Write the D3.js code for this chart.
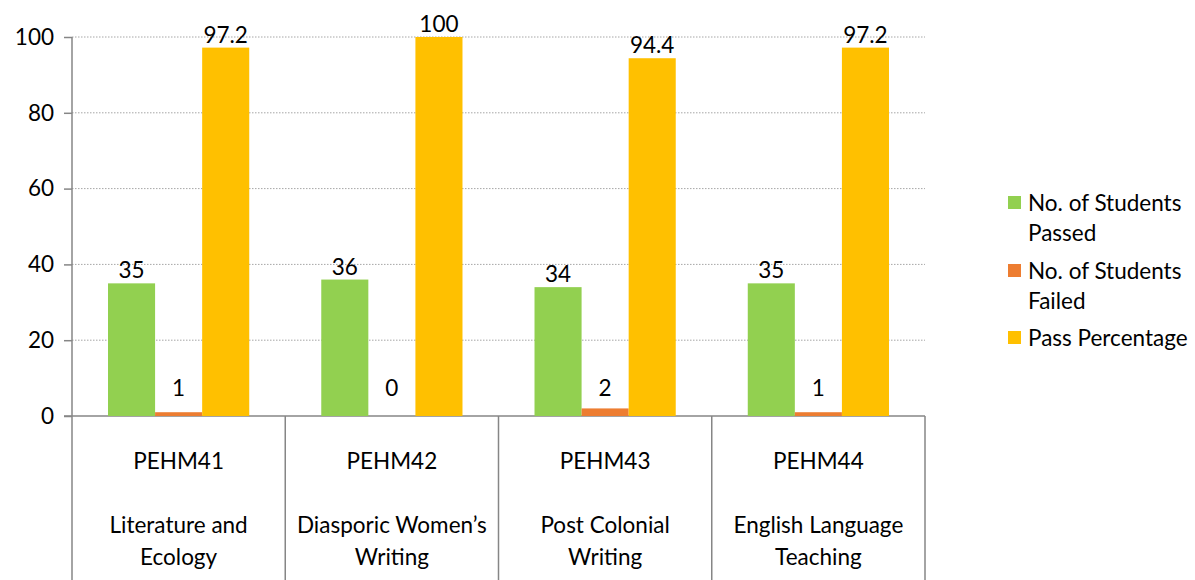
<!DOCTYPE html>
<html><head><meta charset="utf-8">
<script src="https://cdn.jsdelivr.net/npm/d3@7"></script>
<style>body{margin:0;background:#fff}svg{display:block}text{font-family:Lato,"Open Sans",sans-serif;fill:#000}</style>
</head><body><svg id="c" width="1195" height="580"></svg>
<script>
const codes = ["PEHM41","PEHM42","PEHM43","PEHM44"];
const titles = [["Literature and","Ecology"],["Diasporic Women\u2019s","Writing"],["Post Colonial","Writing"],["English Language","Teaching"]];
const seriesNames = ["No. of Students Passed","No. of Students Failed","Pass Percentage"];
const legendLines = [["No. of Students","Passed"],["No. of Students","Failed"],["Pass Percentage"]];
const passed = [35,36,34,35];
const failed = [1,0,2,1];
const passPct = [97.2,100,94.4,97.2];
const yTicks = [0,20,40,60,80,100];
const colors = ["#92d050","#ed7d31","#ffc000"];

const FS = 22.5;
const svg = d3.select("#c");
const L=72, R=925, T=37, B=416;
const x = d3.scaleBand().domain(codes).range([L,R]).paddingInner(0).paddingOuter(0);
const y = d3.scaleLinear().domain([0,100]).range([B,T]);
const inner = d3.scaleBand().domain(d3.range(3)).range([0,x.bandwidth()]).paddingOuter(0.765).paddingInner(0);

// gridlines
svg.append("g").selectAll("line").data(yTicks.filter(d=>d>0)).join("line")
  .attr("x1",L).attr("x2",R).attr("y1",d=>y(d)).attr("y2",d=>y(d))
  .attr("stroke","#a6a6a6").attr("stroke-width",1).attr("stroke-dasharray","1.5,1.5");

// y axis
const ya = svg.append("g").attr("transform",`translate(${L},0)`)
  .call(d3.axisLeft(y).tickValues(yTicks).tickSize(8).tickPadding(10));
ya.select(".domain").remove();
ya.selectAll(".tick line").attr("stroke","#868686").attr("stroke-width",1.5);
ya.selectAll(".tick text").attr("font-size",FS).attr("font-family","Lato,sans-serif").attr("fill","#000");
svg.append("line").attr("x1",L).attr("x2",L).attr("y1",T).attr("y2",580).attr("stroke","#868686").attr("stroke-width",1.5);
svg.append("line").attr("x1",L-8).attr("x2",R).attr("y1",B).attr("y2",B).attr("stroke","#868686").attr("stroke-width",1.5);
// category dividers
svg.append("g").selectAll("line").data(codes).join("line")
  .attr("x1",d=>x(d)+x.bandwidth()).attr("x2",d=>x(d)+x.bandwidth())
  .attr("y1",B).attr("y2",580).attr("stroke","#868686").attr("stroke-width",1.5);

const data = codes.map((c,i)=>[passed[i],failed[i],passPct[i]]);
const g = svg.append("g");
codes.forEach((c,i)=>{
  data[i].forEach((v,j)=>{
    g.append("rect").attr("x",x(c)+inner(j)).attr("width",inner.bandwidth())
      .attr("y",y(v)).attr("height",B-y(v)).attr("fill",colors[j]);
    g.append("text").attr("x",x(c)+inner(j)+inner.bandwidth()/2)
      .attr("y",Math.min(y(v)-5, B-20)).attr("text-anchor","middle").attr("font-size",FS).text(v);
  });
  const cx = x(c)+x.bandwidth()/2;
  svg.append("text").attr("x",cx).attr("y",469).attr("text-anchor","middle").attr("font-size",FS).text(c);
  titles[i].forEach((t,k)=>svg.append("text").attr("x",cx).attr("y",533+k*32).attr("text-anchor","middle").attr("font-size",FS).text(t));
});

// legend
const ly=[196,264,331];
legendLines.forEach((lines,i)=>{
  svg.append("rect").attr("x",1008).attr("y",ly[i]).attr("width",13).attr("height",13).attr("fill",colors[i]);
  lines.forEach((t,k)=>svg.append("text").attr("x",1028).attr("y",ly[i]+15+k*30).attr("font-size",FS).text(t));
});
</script></body></html>
